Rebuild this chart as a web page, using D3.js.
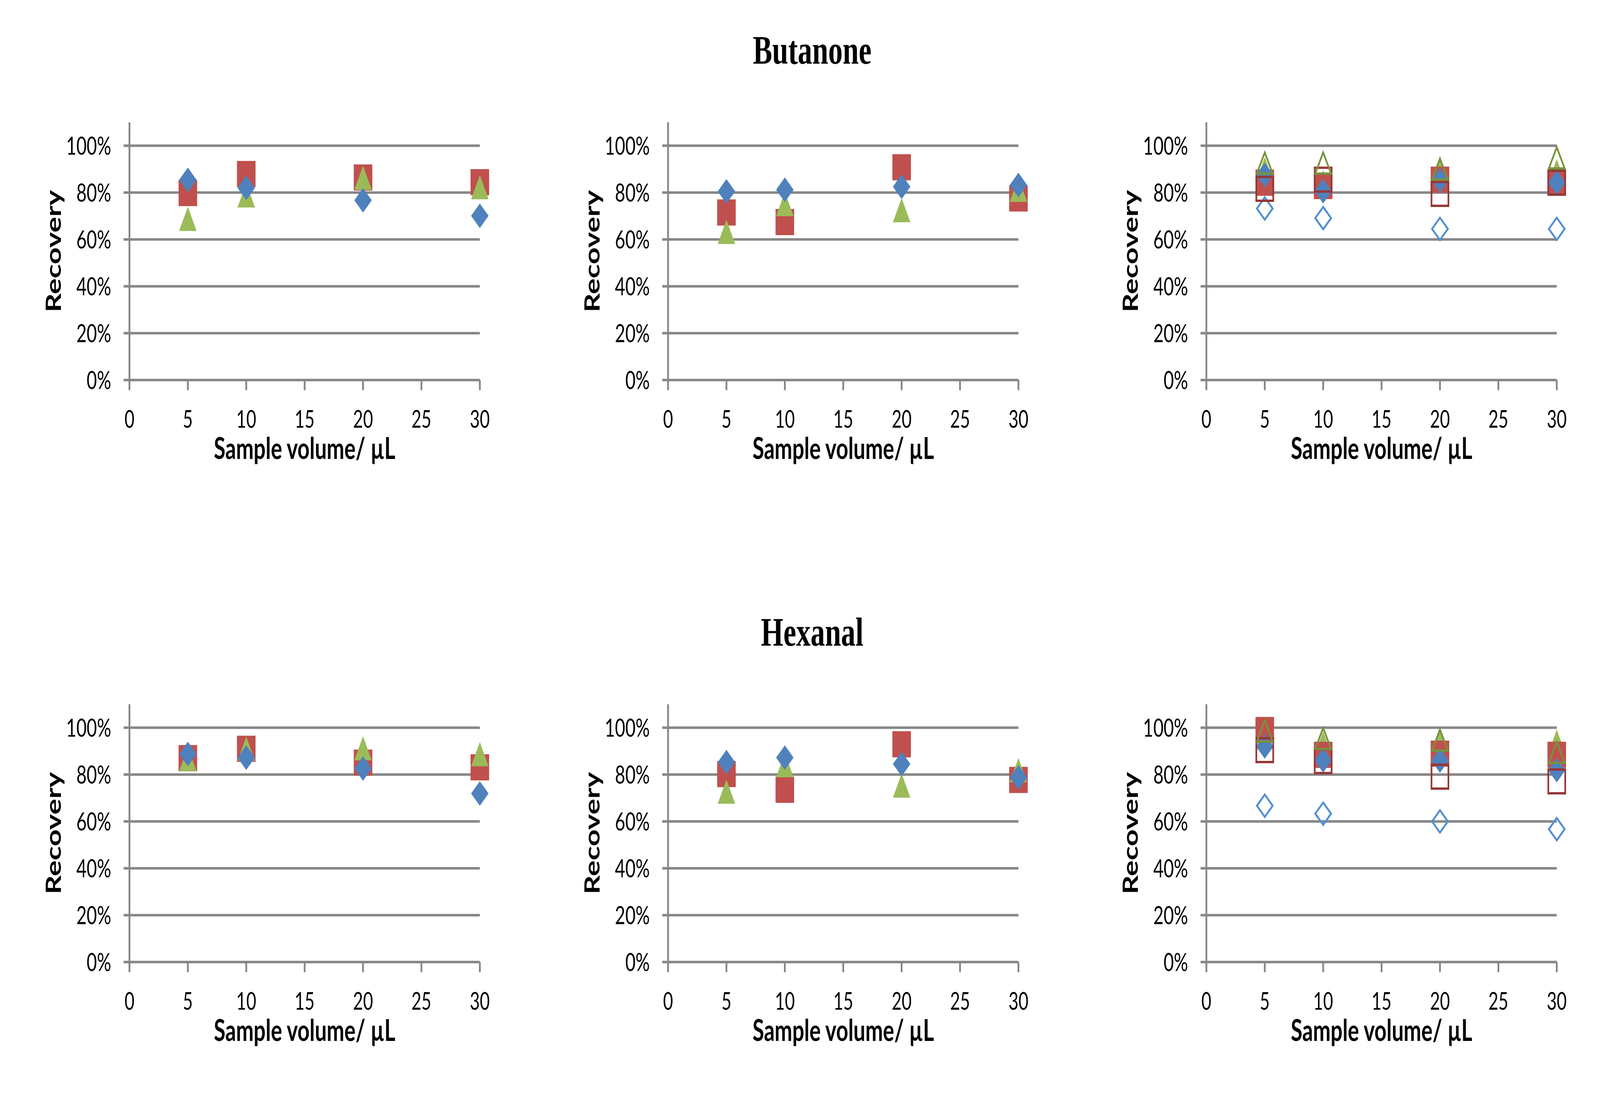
<!DOCTYPE html>
<html>
<head>
<meta charset="utf-8">
<script src="https://cdn.jsdelivr.net/npm/d3@7"></script>
<style>
html, body { margin: 0; padding: 0; width: 100%; height: 100%; overflow: hidden; background: #fff; }
#chart { display: block; width: 100vw; height: 100vh; }
</style>
</head>
<body>
<svg id="chart" viewBox="0 0 5772 2829" preserveAspectRatio="none"></svg>
<script>
// sample volumes (µL) and axis ticks
var volumes = [5, 10, 20, 30];
var xTickValues = [0, 5, 10, 15, 20, 25, 30];
var yTickValues = [0, 20, 40, 60, 80, 100];
var compoundTitles = ["Butanone", "Hexanal"];

// Butanone (recovery, %)
var butLeftSquare = [79.8, 87.9, 86.4, 84.4];
var butLeftTriangle = [68.8, 78.8, 86.3, 82.3];
var butLeftDiamond = [85.4, 82.0, 76.7, 70.1];

var butMidSquare = [71.5, 67.4, 90.8, 77.5];
var butMidTriangle = [63.2, 75.1, 72.5, 81.2];
var butMidDiamond = [80.5, 81.2, 82.5, 83.2];

var butRightTriangle = [90.0, 84.5, 89.5, 89.2];
var butRightSquare = [84.2, 82.8, 85.5, 84.2];
var butRightDiamond = [87.5, 80.6, 85.2, 84.3];
var butRightDiamondOpen = [73.2, 69.1, 64.5, 64.5];
var butRightSquareOpen = [81.6, 85.5, 79.4, 84.2];
var butRightTriangleOpen = [92.6, 92.6, 90.0, 94.8];

// Hexanal (recovery, %)
var hexLeftSquare = [87.0, 91.0, 85.1, 83.1];
var hexLeftTriangle = [86.6, 91.1, 91.2, 88.7];
var hexLeftDiamond = [88.8, 87.2, 82.6, 71.9];

var hexMidSquare = [80.2, 73.5, 92.9, 77.7];
var hexMidTriangle = [72.7, 84.0, 75.3, 81.9];
var hexMidDiamond = [85.3, 87.2, 84.5, 78.8];

var hexRightTriangle = [96.0, 93.3, 94.0, 94.0];
var hexRightSquare = [99.0, 88.4, 88.9, 88.4];
var hexRightDiamond = [92.0, 86.1, 86.0, 81.9];
var hexRightDiamondOpen = [66.7, 63.3, 60.0, 56.7];
var hexRightSquareOpen = [90.4, 85.7, 79.1, 77.1];
var hexRightTriangleOpen = [98.6, 95.4, 94.7, 89.5];

var blue = "#4F81BD", red = "#C0504D", green = "#9BBB59";
var blueOpen = "#558ED5", redOpen = "#953735", greenOpen = "#77933C";
var gridColor = "#878787";

function markerPath(shape, filled) {
    if (shape === "diamond") {
        var r = filled ? 31.5 : 28.5;
        return "M0," + (-r) + "L" + r + ",0L0," + r + "L" + (-r) + ",0Z";
    }
    if (shape === "square") {
        var s = filled ? 33.5 : 30.5;
        return "M" + (-s) + "," + (-s) + "H" + s + "V" + s + "H" + (-s) + "Z";
    }
    var w = filled ? 31.5 : 28.5;
    var h = filled ? 31 : 27;
    return "M0," + (-h) + "L" + w + "," + h + "L" + (-w) + "," + h + "Z";
}

function series(values, shape, filled, color) {
    return { values: values, shape: shape, filled: filled, color: color };
}

var panels = [
    { x0: 467, y0: 973, series: [
        series(butLeftSquare, "square", true, red),
        series(butLeftTriangle, "triangle", true, green),
        series(butLeftDiamond, "diamond", true, blue)] },
    { x0: 2410, y0: 973, series: [
        series(butMidSquare, "square", true, red),
        series(butMidTriangle, "triangle", true, green),
        series(butMidDiamond, "diamond", true, blue)] },
    { x0: 4352, y0: 973, series: [
        series(butRightTriangle, "triangle", true, green),
        series(butRightSquare, "square", true, red),
        series(butRightDiamond, "diamond", true, blue),
        series(butRightDiamondOpen, "diamond", false, blueOpen),
        series(butRightSquareOpen, "square", false, redOpen),
        series(butRightTriangleOpen, "triangle", false, greenOpen)] },
    { x0: 467, y0: 2463, series: [
        series(hexLeftSquare, "square", true, red),
        series(hexLeftTriangle, "triangle", true, green),
        series(hexLeftDiamond, "diamond", true, blue)] },
    { x0: 2410, y0: 2463, series: [
        series(hexMidSquare, "square", true, red),
        series(hexMidTriangle, "triangle", true, green),
        series(hexMidDiamond, "diamond", true, blue)] },
    { x0: 4352, y0: 2463, series: [
        series(hexRightTriangle, "triangle", true, green),
        series(hexRightSquare, "square", true, red),
        series(hexRightDiamond, "diamond", true, blue),
        series(hexRightDiamondOpen, "diamond", false, blueOpen),
        series(hexRightSquareOpen, "square", false, redOpen),
        series(hexRightTriangleOpen, "triangle", false, greenOpen)] }
];

var plotWidth = 1264;
var plotHeight = 660; // 0% .. 110%

var svg = d3.select("#chart");

// compound titles
svg.selectAll("text.title")
    .data(compoundTitles)
    .enter()
    .append("text")
    .attr("class", "title")
    .attr("x", 2930)
    .attr("y", function(d, i) { return i === 0 ? 163 : 1653; })
    .attr("text-anchor", "middle")
    .attr("font-family", "Liberation Serif, serif")
    .attr("font-weight", "bold")
    .attr("font-size", 104)
    .text(function(d) { return d; });

panels.forEach(function(p) {
    var x = d3.scaleLinear().domain([0, 30]).range([p.x0, p.x0 + plotWidth]);
    var y = d3.scaleLinear().domain([0, 110]).range([p.y0, p.y0 - plotHeight]);
    var g = svg.append("g");

    // horizontal gridlines + y tick marks
    g.selectAll("line.grid")
        .data(yTickValues)
        .enter()
        .append("line")
        .attr("x1", p.x0 - 21)
        .attr("x2", x(30))
        .attr("y1", function(d) { return y(d); })
        .attr("y2", function(d) { return y(d); })
        .attr("stroke", gridColor)
        .attr("stroke-width", 6.5);

    // y axis line
    g.append("line")
        .attr("x1", x(0)).attr("x2", x(0))
        .attr("y1", y(110)).attr("y2", y(0))
        .attr("stroke", gridColor)
        .attr("stroke-width", 6.5);

    // x tick marks
    g.selectAll("line.xtick")
        .data(xTickValues)
        .enter()
        .append("line")
        .attr("x1", function(d) { return x(d); })
        .attr("x2", function(d) { return x(d); })
        .attr("y1", y(0))
        .attr("y2", y(0) + 26)
        .attr("stroke", gridColor)
        .attr("stroke-width", 6.5);

    g.selectAll("text.ylab")
        .data(yTickValues)
        .enter()
        .append("text")
        .attr("x", p.x0 - 66)
        .attr("y", function(d) { return y(d); })
        .attr("dy", "0.36em")
        .attr("text-anchor", "end")
        .attr("font-family", "Lato, sans-serif")
        .attr("font-size", 64)
        .attr("fill", "#000")
        .text(function(d) { return d + "%"; });

    g.selectAll("text.xlab")
        .data(xTickValues)
        .enter()
        .append("text")
        .attr("x", function(d) { return x(d); })
        .attr("y", y(0) + 122)
        .attr("text-anchor", "middle")
        .attr("font-family", "Lato, sans-serif")
        .attr("font-size", 62)
        .attr("fill", "#000")
        .text(function(d) { return d; });

    g.append("text")
        .attr("x", (x(0) + x(30)) / 2)
        .attr("y", y(0) + 202)
        .attr("text-anchor", "middle")
        .attr("font-family", "Lato, sans-serif")
        .attr("font-weight", "bold")
        .attr("font-size", 76)
        .text("Sample volume/ \u00b5L");

    var cy = (y(0) + y(110)) / 2;
    g.append("text")
        .attr("transform", "translate(" + (p.x0 - 247) + "," + cy + ") rotate(-90)")
        .attr("text-anchor", "middle")
        .attr("font-family", "Lato, sans-serif")
        .attr("font-weight", "bold")
        .attr("font-size", 76)
        .text("Recovery");

    // markers
    p.series.forEach(function(s) {
        g.append("g")
            .selectAll("path")
            .data(s.values.map(function(v, i) { return { x: volumes[i], v: v }; }))
            .enter()
            .append("path")
            .attr("transform", function(d) { return "translate(" + x(d.x) + "," + y(d.v) + ")"; })
            .attr("d", markerPath(s.shape, s.filled))
            .attr("fill", s.filled ? s.color : "none")
            .attr("stroke", s.filled ? "none" : s.color)
            .attr("stroke-width", s.filled ? 0 : 6);
    });
});
</script>
</body>
</html>
